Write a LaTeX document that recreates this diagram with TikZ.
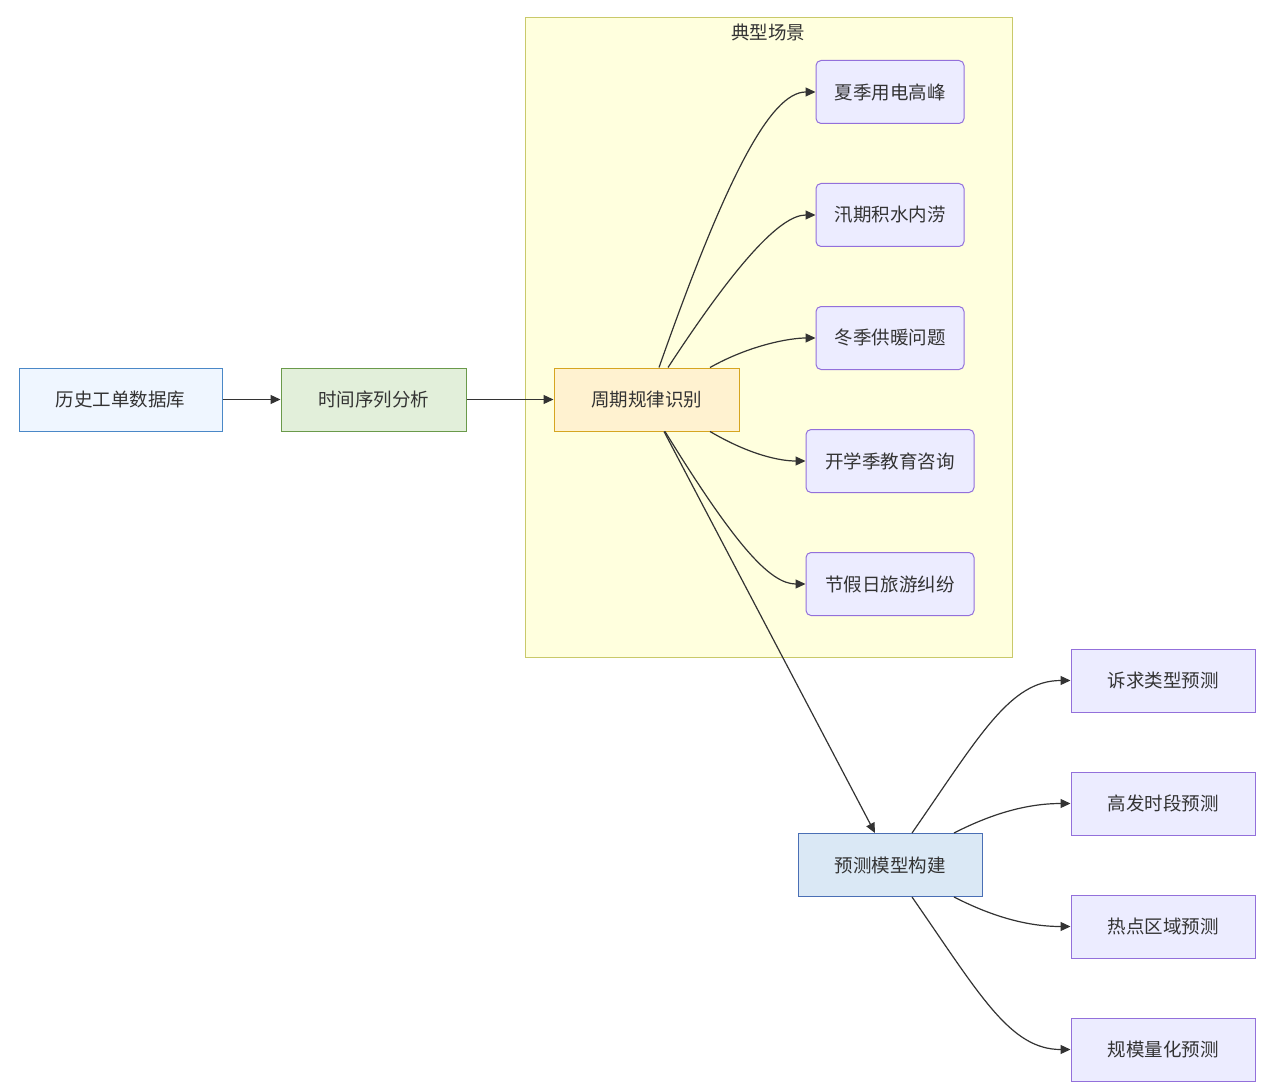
\documentclass[tikz,border=0pt]{standalone}
\usepackage{fontspec}
\setmainfont{Noto Sans CJK SC}
\usetikzlibrary{arrows.meta}
\definecolor{txt}{HTML}{333333}
\definecolor{scfill}{HTML}{ECECFF}
\definecolor{scdraw}{HTML}{9370DB}
\tikzset{
  box/.style={draw, line width=1pt, minimum height=63pt, font=\fontsize{18.5}{22}\selectfont, text=txt, inner sep=0pt},
  scen/.style={box, fill=scfill, draw=scdraw, rounded corners=5pt, minimum width=148pt},
  outp/.style={box, fill=scfill, draw=scdraw, minimum width=184pt},
  edge/.style={draw=txt, line width=1.2pt, -{Triangle[length=10pt,width=9pt]}}
}
\begin{document}
\begin{tikzpicture}[x=1pt,y=-1pt]
\useasboundingbox (0,0) rectangle (1265,1091);
% cluster
\node[draw={rgb,255:red,201;green,201;blue,106}, fill={rgb,255:red,255;green,255;blue,222}, line width=1pt, minimum width=487pt, minimum height=639pt, inner sep=0pt] (cluster) at (768.5,337.5) {};
\node[font=\fontsize{18.5}{22}\selectfont, text=txt] (title) at (768,32) {典型场景};
% main nodes
\node[box, fill={rgb,255:red,239;green,246;blue,255}, draw={rgb,255:red,74;green,136;blue,199}, minimum width=203pt] (A) at (120.5,399.5) {历史工单数据库};
\node[box, fill={rgb,255:red,226;green,239;blue,218}, draw={rgb,255:red,106;green,154;blue,74}, minimum width=185pt] (B) at (373.5,399.5) {时间序列分析};
\node[box, fill={rgb,255:red,255;green,242;blue,208}, draw={rgb,255:red,214;green,165;blue,32}, minimum width=185pt] (C) at (646.5,399.5) {周期规律识别};
\node[box, fill={rgb,255:red,218;green,232;blue,245}, draw={rgb,255:red,74;green,111;blue,181}, minimum width=184pt] (D) at (890,865) {预测模型构建};
% scenarios
\node[scen] (S1) at (890,92) {夏季用电高峰};
\node[scen] (S2) at (890,215) {汛期积水内涝};
\node[scen] (S3) at (890,338) {冬季供暖问题};
\node[scen, minimum width=168pt] (S4) at (890,461) {开学季教育咨询};
\node[scen, minimum width=168pt] (S5) at (890,584) {节假日旅游纠纷};
% outputs
\node[outp] (O1) at (1163,680.5) {诉求类型预测};
\node[outp] (O2) at (1163,803.5) {高发时段预测};
\node[outp] (O3) at (1163,926.5) {热点区域预测};
\node[outp] (O4) at (1163,1049.5) {规模量化预测};
% edges
\draw[edge] (A) -- (B);
\draw[edge] (B) -- (C);
\draw[edge] ([xshift=12.5pt]C.north) .. controls (725,180) and (770,92) .. (S1.west);
\draw[edge] ([xshift=21.5pt]C.north) .. controls (735,265) and (780,215) .. (S2.west);
\draw[edge] ([xshift=63.5pt]C.north) .. controls (750,345) and (790,338) .. (S3.west);
\draw[edge] ([xshift=63.5pt]C.south) .. controls (750,455) and (780,461) .. (S4.west);
\draw[edge] ([xshift=18.5pt]C.south) .. controls (735,545) and (770,584) .. (S5.west);
\draw[edge] ([xshift=17.5pt]C.south) -- ([xshift=-15pt]D.north);
\draw[edge] ([xshift=22pt]D.north) .. controls (980,735) and (1010,680.5) .. (O1.west);
\draw[edge] ([xshift=64pt]D.north) .. controls (995,812) and (1030,803.5) .. (O2.west);
\draw[edge] ([xshift=64pt]D.south) .. controls (995,918) and (1030,926.5) .. (O3.west);
\draw[edge] ([xshift=22pt]D.south) .. controls (980,995) and (1010,1049.5) .. (O4.west);
\end{tikzpicture}
\end{document}
